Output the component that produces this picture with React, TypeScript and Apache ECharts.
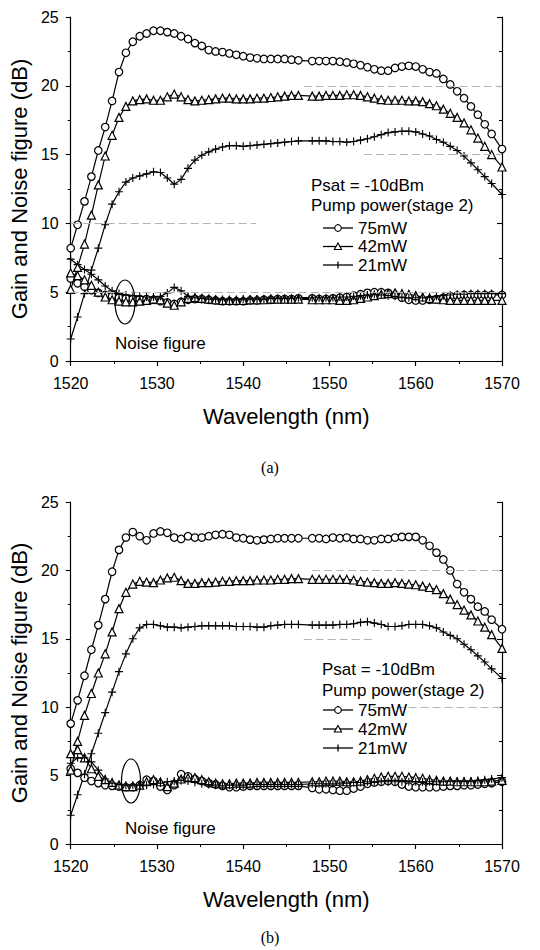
import React, { useEffect, useRef } from "react";
import * as echarts from "echarts";

// Wavelength samples (nm), shared by every curve (gap near 1547 nm as in the measurement)
const wavelengths = [
  1520.0, 1520.8, 1521.6, 1522.4, 1523.2, 1524.0, 1524.8, 1525.6, 1526.4, 1527.2,
  1528.0, 1528.8, 1529.6, 1530.4, 1531.2, 1532.0, 1532.8, 1533.6, 1534.4, 1535.2,
  1536.0, 1536.8, 1537.6, 1538.4, 1539.2, 1540.0, 1540.8, 1541.6, 1542.4, 1543.2,
  1544.0, 1544.8, 1545.6, 1546.4, 1548.0, 1548.8, 1549.6, 1550.4, 1551.2, 1552.0,
  1552.8, 1553.6, 1554.4, 1555.2, 1556.0, 1556.8, 1557.6, 1558.4, 1559.2, 1560.0,
  1560.8, 1561.6, 1562.4, 1563.2, 1564.0, 1564.8, 1565.6, 1566.4, 1567.2, 1568.0,
  1568.8, 1570.0,
];

const xTicks = [1520, 1530, 1540, 1550, 1560, 1570];
const yTicks = [0, 5, 10, 15, 20, 25];
const legendNames = ["75mW", "42mW", "21mW"];

// Faint partial grid remnants visible in the scan: [level, from nm, to nm]
const faintGridA = [
  [20, 1547, 1570],
  [15, 1554, 1570],
  [10, 1520, 1541.5],
  [5, 1520, 1570],
];
const faintGridB = [
  [20, 1548, 1570],
  [15, 1547, 1555],
  [10, 1555, 1570],
];

// ---- Panel (a) ----
const gainA75 = [
  8.2, 9.9, 11.6, 13.4, 15.3, 17.0, 18.9, 21.0, 22.4, 23.2,
  23.6, 23.8, 24.0, 24.0, 23.9, 23.8, 23.6, 23.4, 23.1, 22.9,
  22.6, 22.5, 22.45, 22.35, 22.25, 22.15, 22.05, 22.0, 21.95, 21.95,
  21.95, 21.95, 21.9, 21.85, 21.8, 21.8, 21.8, 21.8, 21.75, 21.7,
  21.6, 21.5, 21.35, 21.2, 21.1, 21.1, 21.3, 21.4, 21.45, 21.4,
  21.2, 21.0, 20.9, 20.5, 20.1, 19.6, 19.1, 18.5, 17.9, 17.2,
  16.5, 15.4,
];
const gainA42 = [
  5.2, 6.8, 8.5, 10.6, 12.8, 14.9, 16.4, 17.7, 18.5, 18.9,
  19.0, 19.05, 18.95, 18.95, 19.2, 19.4, 19.2, 19.0, 18.9, 18.95,
  19.0, 19.05, 19.1, 19.1, 19.05, 19.05, 19.05, 19.1, 19.1, 19.15,
  19.2, 19.25, 19.3, 19.3, 19.25, 19.25, 19.3, 19.3, 19.3, 19.35,
  19.35, 19.3, 19.2, 19.1, 19.0, 18.95, 18.95, 18.95, 18.9, 18.9,
  18.85, 18.7, 18.55, 18.3, 18.0, 17.7, 17.3, 16.8, 16.2, 15.6,
  15.0, 14.1,
];
const gainA21 = [
  1.6, 3.2, 4.9, 6.6, 8.2, 9.9, 11.4, 12.3, 13.0, 13.3,
  13.45, 13.6, 13.75, 13.7, 13.3, 12.85, 13.2, 14.0, 14.6, 14.95,
  15.2, 15.4, 15.55, 15.65, 15.65, 15.6, 15.65, 15.7, 15.75, 15.8,
  15.85, 15.9, 15.95, 16.0, 16.0, 16.0, 16.0, 15.95, 15.95, 15.9,
  15.95, 16.05, 16.15, 16.3, 16.45, 16.6, 16.65, 16.7, 16.7, 16.65,
  16.5, 16.35, 16.1, 15.9, 15.6, 15.3, 14.9, 14.4, 13.9, 13.4,
  12.9, 12.1,
];
const nfA75 = [
  6.0, 5.65, 5.4, 5.15, 4.95, 4.8, 4.7, 4.6, 4.55, 4.5,
  4.5, 4.5, 4.45, 4.35, 4.25, 4.15, 4.3, 4.45, 4.5, 4.5,
  4.45, 4.4, 4.35, 4.35, 4.35, 4.35, 4.4, 4.4, 4.45, 4.45,
  4.5, 4.5, 4.5, 4.55, 4.55, 4.5, 4.5, 4.55, 4.6, 4.65,
  4.75, 4.85, 4.95, 5.0, 5.0, 4.95, 4.8, 4.6, 4.45, 4.4,
  4.4, 4.45, 4.5, 4.6, 4.7, 4.75, 4.8, 4.8, 4.8, 4.8,
  4.8, 4.8,
];
const nfA42 = [
  6.4, 6.2, 5.9, 5.5, 5.0, 4.65, 4.45, 4.35, 4.3, 4.3,
  4.35, 4.4, 4.5, 4.45, 4.2, 4.05, 4.3, 4.55, 4.6, 4.55,
  4.5, 4.45, 4.4, 4.4, 4.4, 4.4, 4.45, 4.45, 4.45, 4.5,
  4.5, 4.5, 4.5, 4.5, 4.45, 4.45, 4.45, 4.45, 4.4, 4.4,
  4.45, 4.55, 4.65, 4.75, 4.85, 4.9, 4.95, 4.9, 4.85, 4.75,
  4.65, 4.55, 4.5, 4.45, 4.4, 4.4, 4.4, 4.4, 4.4, 4.4,
  4.4, 4.4,
];
const nfA21 = [
  7.4, 7.0, 6.65, 6.3, 5.9, 5.45, 5.1, 4.9, 4.8, 4.75,
  4.7, 4.65, 4.65, 4.7, 4.95, 5.35, 5.1, 4.7, 4.6, 4.55,
  4.5, 4.5, 4.45, 4.45, 4.45, 4.5, 4.5, 4.5, 4.5, 4.55,
  4.55, 4.55, 4.55, 4.6, 4.6, 4.6, 4.6, 4.6, 4.65, 4.65,
  4.7, 4.75, 4.8, 4.85, 4.8, 4.75, 4.7, 4.65, 4.6, 4.6,
  4.6, 4.65, 4.7, 4.75, 4.8, 4.85, 4.85, 4.9, 4.9, 4.9,
  4.9, 4.9,
];

// ---- Panel (b) ----
const gainB75 = [
  8.8, 10.5, 12.3, 14.2, 16.0, 17.9, 19.9, 21.5, 22.4, 22.8,
  22.5, 22.2, 22.7, 22.85, 22.75, 22.4, 22.3, 22.5, 22.4, 22.4,
  22.5, 22.6, 22.65, 22.6, 22.4, 22.35, 22.25, 22.2, 22.25, 22.3,
  22.35, 22.35, 22.35, 22.35, 22.35, 22.35, 22.3, 22.4, 22.35, 22.4,
  22.3, 22.3, 22.2, 22.2, 22.3, 22.3, 22.4, 22.45, 22.45, 22.45,
  22.2, 21.8, 21.3, 20.8, 20.0, 19.0, 18.4, 17.9, 17.35, 17.0,
  16.4, 15.7,
];
const gainB42 = [
  5.4, 7.5, 9.4, 11.0, 12.5, 13.9, 15.5, 17.2, 18.4, 19.0,
  19.2, 19.15, 19.1, 19.3, 19.45, 19.5, 19.25, 19.05, 19.05, 19.1,
  19.1, 19.15, 19.2, 19.2, 19.25, 19.25, 19.25, 19.3, 19.3, 19.3,
  19.35, 19.35, 19.4, 19.4, 19.35, 19.35, 19.35, 19.35, 19.35, 19.35,
  19.3, 19.2, 19.15, 19.1, 19.05, 19.05, 19.1, 19.05, 19.0, 18.95,
  18.85, 18.75, 18.6, 18.3, 17.9, 17.5, 17.1, 16.75, 16.3, 15.85,
  15.3, 14.3,
];
const gainB21 = [
  2.1, 3.6, 5.1, 6.6, 8.1, 9.6, 11.1, 12.6, 13.9, 15.0,
  15.8, 16.05, 16.05, 15.95, 15.85, 15.85, 15.8, 15.85, 15.9, 15.95,
  15.95, 15.95, 15.95, 15.95, 15.9, 15.9, 15.9, 15.85, 15.85, 15.95,
  16.0, 16.05, 16.05, 16.05, 16.0, 16.0, 16.0, 16.0, 16.05, 16.05,
  16.1, 16.2, 16.25, 16.15, 16.05, 15.9, 15.9, 15.95, 16.05, 16.05,
  16.05, 15.95, 15.8, 15.5, 15.25, 15.0, 14.6, 14.2, 13.75, 13.3,
  12.8, 12.1,
];
const nfB75 = [
  5.5, 5.2, 4.85, 4.6, 4.45, 4.3, 4.25, 4.2, 4.15, 4.15,
  4.3, 4.7, 4.6, 4.2, 3.95, 4.3, 5.1, 4.95, 4.75, 4.6,
  4.45, 4.35, 4.25, 4.15, 4.15, 4.2, 4.25, 4.25, 4.25, 4.25,
  4.25, 4.25, 4.25, 4.25, 4.1, 4.0, 4.0, 3.95, 3.9, 3.9,
  4.05, 4.2, 4.4, 4.5, 4.55, 4.6, 4.55, 4.35, 4.2, 4.15,
  4.15, 4.15, 4.15, 4.2, 4.25, 4.25, 4.3, 4.3, 4.35, 4.4,
  4.45, 4.55,
];
const nfB42 = [
  6.6, 6.9, 6.3, 5.5, 4.95, 4.7, 4.5, 4.3, 4.2, 4.2,
  4.3, 4.55, 4.7, 4.55, 4.2, 4.45, 4.75, 4.85, 4.85, 4.7,
  4.55, 4.45, 4.4, 4.4, 4.45, 4.45, 4.45, 4.5, 4.5, 4.5,
  4.5, 4.5, 4.5, 4.5, 4.55, 4.55, 4.6, 4.6, 4.6, 4.55,
  4.55, 4.6, 4.7, 4.8, 4.9, 4.95, 4.95, 4.95, 4.9, 4.85,
  4.8, 4.7, 4.65, 4.6, 4.6, 4.55, 4.55, 4.55, 4.55, 4.55,
  4.6, 4.65,
];
const nfB21 = [
  5.9, 6.3, 6.3, 6.0, 5.4, 4.75, 4.45, 4.35, 4.3, 4.3,
  4.3, 4.3, 4.35, 4.45, 4.55, 4.6, 4.65, 4.6, 4.5, 4.4,
  4.35, 4.3, 4.25, 4.3, 4.3, 4.3, 4.35, 4.35, 4.35, 4.35,
  4.35, 4.35, 4.35, 4.35, 4.4, 4.4, 4.4, 4.4, 4.45, 4.45,
  4.5, 4.5, 4.55, 4.55, 4.55, 4.55, 4.55, 4.55, 4.55, 4.55,
  4.55, 4.55, 4.55, 4.55, 4.6, 4.6, 4.6, 4.6, 4.65, 4.7,
  4.75, 4.85,
];

const FONT = "'Liberation Sans', Arial, Helvetica, sans-serif";
const SERIF = "'Liberation Serif', 'Times New Roman', serif";
const BLACK = "#000";

const PLUS =
  "path://M4.3,0 L5.7,0 L5.7,4.3 L10,4.3 L10,5.7 L5.7,5.7 L5.7,10 L4.3,10 L4.3,5.7 L0,5.7 L0,4.3 L4.3,4.3 Z";

const markerStyles = [
  { symbol: "circle", symbolSize: 7.5, itemStyle: { color: "#fff", borderColor: BLACK, borderWidth: 1.2 } },
  { symbol: "triangle", symbolSize: 8, itemStyle: { color: "#fff", borderColor: BLACK, borderWidth: 1.2 } },
  { symbol: PLUS, symbolSize: 8, itemStyle: { color: BLACK, borderWidth: 0 } },
];

function pairs(vals: number[]) {
  return wavelengths.map((w, i) => [w, vals[i]]);
}

function makeSeries(panel: number, sets: number[][]) {
  return sets.map((vals, k) => {
    const m = markerStyles[k % 3];
    return {
      type: "line",
      name: legendNames[k % 3],
      xAxisIndex: panel * 2,
      yAxisIndex: panel * 2,
      data: pairs(vals),
      symbol: m.symbol,
      symbolSize: m.symbolSize,
      showAllSymbol: true,
      itemStyle: m.itemStyle,
      lineStyle: { color: BLACK, width: 1.2 },
      emphasis: { disabled: true },
      z: 3,
    };
  });
}

function faintSeries(panel: number, segs: number[][]) {
  return {
    type: "line",
    xAxisIndex: panel * 2,
    yAxisIndex: panel * 2,
    data: [],
    z: 1,
    markLine: {
      silent: true,
      symbol: ["none", "none"],
      label: { show: false },
      lineStyle: { color: "#b4b4b4", width: 1, type: [8, 4] },
      emphasis: { disabled: true },
      data: segs.map(([lv, a, b]) => [
        { coord: [a, lv] },
        { coord: [b, lv] },
      ]),
    },
  };
}

function mainXAxis(grid: number, nameY: number) {
  return {
    type: "value",
    gridIndex: grid,
    position: "bottom",
    min: xTicks[0],
    max: xTicks[xTicks.length - 1],
    interval: xTicks[1] - xTicks[0],
    name: "Wavelength (nm)",
    nameLocation: "middle",
    nameGap: nameY,
    nameTextStyle: { fontFamily: FONT, fontSize: 22, color: BLACK },
    axisLine: { show: true, lineStyle: { color: BLACK, width: 1.2 } },
    axisTick: { show: true, inside: false, length: 5, lineStyle: { color: BLACK, width: 1.1 } },
    minorTick: { show: true, splitNumber: 2, length: 3, lineStyle: { color: BLACK, width: 1 } },
    axisLabel: { fontFamily: FONT, fontSize: 16, color: BLACK, margin: 14, formatter: (v: number) => String(v) },
    splitLine: { show: false },
  };
}
function topXAxis(grid: number) {
  return {
    type: "value",
    gridIndex: grid,
    position: "top",
    min: xTicks[0],
    max: xTicks[xTicks.length - 1],
    interval: xTicks[1] - xTicks[0],
    axisLine: { show: true, lineStyle: { color: BLACK, width: 1.2 } },
    axisTick: { show: true, inside: true, length: 5, lineStyle: { color: BLACK, width: 1.1 } },
    minorTick: { show: true, splitNumber: 2, length: 3, lineStyle: { color: BLACK, width: 1 } },
    axisLabel: { show: false },
    splitLine: { show: false },
  };
}
function mainYAxis(grid: number) {
  return {
    type: "value",
    gridIndex: grid,
    position: "left",
    min: yTicks[0],
    max: yTicks[yTicks.length - 1],
    interval: yTicks[1] - yTicks[0],
    name: "Gain and Noise figure (dB)",
    nameLocation: "middle",
    nameGap: 29,
    nameRotate: 90,
    nameTextStyle: { fontFamily: FONT, fontSize: 22, color: BLACK },
    axisLine: { show: true, lineStyle: { color: BLACK, width: 1.2 } },
    axisTick: { show: true, inside: false, length: 5, lineStyle: { color: BLACK, width: 1.1 } },
    minorTick: { show: true, splitNumber: 2, length: 3, lineStyle: { color: BLACK, width: 1 } },
    axisLabel: { fontFamily: FONT, fontSize: 16, color: BLACK, margin: 12 },
    splitLine: { show: false },
  };
}
function rightYAxis(grid: number) {
  return {
    type: "value",
    gridIndex: grid,
    position: "right",
    min: yTicks[0],
    max: yTicks[yTicks.length - 1],
    interval: yTicks[1] - yTicks[0],
    axisLine: { show: true, lineStyle: { color: BLACK, width: 1.2 } },
    axisTick: { show: true, inside: true, length: 5, lineStyle: { color: BLACK, width: 1.1 } },
    minorTick: { show: true, splitNumber: 2, length: 3, lineStyle: { color: BLACK, width: 1 } },
    axisLabel: { show: false },
    splitLine: { show: false },
  };
}

function txt(text: string, x: number, y: number, size: number, family = FONT, align = "left") {
  return {
    type: "text",
    z: 10,
    style: {
      text,
      x,
      y,
      font: `${size}px ${family}`,
      fill: BLACK,
      textAlign: align,
      textVerticalAlign: "middle",
      align,
      verticalAlign: "middle",
    },
  };
}

function legendGroup(x0: number, yPsat: number, yPump: number, ys: number[]) {
  const els: any[] = [txt("Psat = -10dBm", x0, yPsat, 17), txt("Pump power(stage 2)", x0, yPump, 17)];
  const lx1 = 323;
  const lx2 = 353;
  const cx = 338;
  ys.forEach((y, k) => {
    els.push({ type: "line", z: 10, shape: { x1: lx1, y1: y, x2: lx2, y2: y }, style: { stroke: BLACK, lineWidth: 1.3 } });
    if (k === 0) {
      els.push({ type: "circle", z: 11, shape: { cx, cy: y, r: 3.3 }, style: { fill: "#fff", stroke: BLACK, lineWidth: 1.1 } });
    } else if (k === 1) {
      els.push({
        type: "polygon",
        z: 11,
        shape: { points: [[cx, y - 3.5], [cx + 3.6, y + 3], [cx - 3.6, y + 3]] },
        style: { fill: "#fff", stroke: BLACK, lineWidth: 1.1 },
      });
    } else {
      els.push({ type: "line", z: 11, shape: { x1: cx, y1: y - 3.5, x2: cx, y2: y + 3.5 }, style: { stroke: BLACK, lineWidth: 1.3 } });
    }
    els.push(txt(legendNames[k], 358, y, 17));
  });
  return els;
}

export default function App() {
  const ref = useRef<HTMLDivElement>(null);
  useEffect(() => {
    if (!ref.current) return;
    const chart = echarts.init(ref.current, null, { renderer: "svg", width: 540, height: 950 });
    const option: any = {
      animation: false,
      backgroundColor: "#fff",
      grid: [
        { left: 67, top: 17, width: 435, height: 344 },
        { left: 67, top: 502, width: 435, height: 342 },
      ],
      xAxis: [mainXAxis(0, 44), topXAxis(0), mainXAxis(1, 44), topXAxis(1)],
      yAxis: [mainYAxis(0), rightYAxis(0), mainYAxis(1), rightYAxis(1)],
      series: [
        faintSeries(0, faintGridA),
        faintSeries(1, faintGridB),
        ...makeSeries(0, [nfA75, nfA42, nfA21]),
        ...makeSeries(0, [gainA75, gainA42, gainA21]),
        ...makeSeries(1, [nfB75, nfB42, nfB21]),
        ...makeSeries(1, [gainB75, gainB42, gainB21]),
      ],
      graphic: [
        ...legendGroup(311, 185, 205, [228, 246.5, 265]),
        ...legendGroup(322, 669, 690, [710, 729, 748]),
        txt("Noise figure", 115, 343, 17),
        txt("Noise figure", 125, 828, 17),
        { type: "ellipse", z: 12, shape: { cx: 125, cy: 302, rx: 10, ry: 22 }, style: { fill: "none", stroke: BLACK, lineWidth: 1.2 } },
        { type: "ellipse", z: 12, shape: { cx: 131, cy: 781, rx: 9.5, ry: 22 }, style: { fill: "none", stroke: BLACK, lineWidth: 1.2 } },
        txt("(a)", 270, 467, 16, SERIF, "center"),
        txt("(b)", 270, 937, 16, SERIF, "center"),
      ],
    };
    chart.setOption(option);
    return () => chart.dispose();
  }, []);
  return (
    <div
      ref={ref}
      style={{ position: "absolute", left: 0, top: 0, width: 540, height: 950, background: "#fff" }}
    />
  );
}
